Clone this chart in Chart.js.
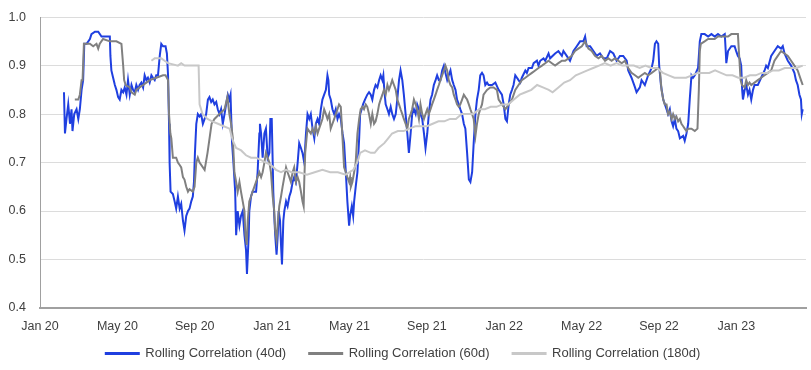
<!DOCTYPE html>
<html>
<head>
<meta charset="utf-8">
<script src="https://cdn.jsdelivr.net/npm/chart.js@4.4.1/dist/chart.umd.min.js"></script>
<style>
  html, body { margin: 0; padding: 0; background: #fff; }
  #wrap { width: 811px; height: 370px; }
</style>
</head>
<body>
<div id="wrap"><canvas id="chart"></canvas></div>
<script>
// x values are months since Jan 2020
const tickMonths = [0, 4, 8, 12, 16, 20, 24, 28, 32, 36];
const tickLabels = ["Jan 20", "May 20", "Sep 20", "Jan 21", "May 21", "Sep 21", "Jan 22", "May 22", "Sep 22", "Jan 23"];

const seriesNames = ["Rolling Correlation (40d)", "Rolling Correlation (60d)", "Rolling Correlation (180d)"];

const corr40d = [
  [1.24,0.845],[1.29,0.76],[1.37,0.79],[1.46,0.82],[1.55,0.78],[1.63,0.81],[1.68,0.765],[1.77,0.80],[1.89,0.81],[1.98,0.79],
  [2.06,0.81],[2.15,0.85],[2.23,0.87],[2.29,0.945],[2.41,0.945],[2.58,0.955],[2.66,0.965],[2.84,0.97],[3.01,0.97],[3.18,0.96],
  [3.35,0.96],[3.61,0.96],[3.64,0.92],[3.69,0.89],[3.78,0.875],[3.87,0.86],[3.95,0.85],[4.04,0.835],[4.12,0.83],[4.21,0.85],
  [4.30,0.845],[4.38,0.855],[4.47,0.84],[4.55,0.87],[4.64,0.84],[4.73,0.86],[4.81,0.85],[4.90,0.845],[4.98,0.86],[5.07,0.85],
  [5.15,0.86],[5.24,0.865],[5.33,0.855],[5.41,0.88],[5.50,0.87],[5.58,0.875],[5.67,0.865],[5.76,0.88],[5.84,0.875],[5.93,0.87],
  [6.01,0.88],[6.10,0.88],[6.19,0.92],[6.27,0.945],[6.36,0.94],[6.49,0.94],[6.56,0.925],[6.62,0.88],[6.67,0.78],[6.70,0.70],
  [6.75,0.64],[6.87,0.635],[6.96,0.62],[7.04,0.605],[7.13,0.63],[7.22,0.605],[7.30,0.615],[7.39,0.58],[7.47,0.56],[7.56,0.59],
  [7.65,0.60],[7.73,0.605],[7.82,0.62],[7.90,0.63],[7.96,0.66],[8.01,0.72],[8.08,0.78],[8.16,0.80],[8.25,0.795],[8.33,0.80],
  [8.42,0.78],[8.51,0.79],[8.59,0.80],[8.68,0.83],[8.76,0.835],[8.85,0.825],[8.93,0.83],[9.02,0.82],[9.11,0.825],[9.19,0.81],
  [9.28,0.80],[9.36,0.81],[9.45,0.78],[9.54,0.80],[9.62,0.82],[9.71,0.84],[9.79,0.83],[9.85,0.84],[9.88,0.80],[9.93,0.74],
  [10.00,0.70],[10.09,0.64],[10.14,0.55],[10.22,0.60],[10.31,0.57],[10.39,0.59],[10.48,0.60],[10.57,0.55],[10.65,0.52],[10.70,0.47],
  [10.79,0.55],[10.82,0.60],[10.91,0.63],[10.99,0.64],[11.08,0.64],[11.17,0.64],[11.25,0.68],[11.34,0.76],[11.37,0.78],[11.43,0.76],
  [11.51,0.71],[11.60,0.76],[11.68,0.77],[11.77,0.71],[11.86,0.72],[11.91,0.79],[11.98,0.79],[12.03,0.70],[12.06,0.64],[12.11,0.59],
  [12.16,0.55],[12.23,0.51],[12.29,0.55],[12.34,0.60],[12.41,0.58],[12.46,0.53],[12.51,0.49],[12.58,0.58],[12.63,0.60],[12.72,0.62],
  [12.80,0.61],[12.89,0.63],[12.97,0.64],[13.06,0.66],[13.14,0.67],[13.23,0.66],[13.32,0.70],[13.40,0.74],[13.49,0.73],[13.57,0.72],
  [13.66,0.70],[13.75,0.76],[13.83,0.80],[13.92,0.79],[14.00,0.80],[14.09,0.77],[14.18,0.75],[14.26,0.78],[14.35,0.79],[14.43,0.78],
  [14.52,0.81],[14.60,0.83],[14.69,0.84],[14.78,0.85],[14.86,0.88],[14.91,0.87],[14.95,0.84],[15.03,0.83],[15.12,0.81],[15.21,0.80],
  [15.29,0.81],[15.38,0.79],[15.46,0.80],[15.55,0.79],[15.64,0.76],[15.72,0.74],[15.81,0.68],[15.89,0.62],[15.98,0.57],[16.03,0.59],
  [16.12,0.61],[16.19,0.59],[16.24,0.62],[16.32,0.65],[16.41,0.68],[16.50,0.75],[16.55,0.80],[16.63,0.81],[16.70,0.82],[16.80,0.83],
  [16.92,0.84],[17.01,0.845],[17.10,0.84],[17.18,0.83],[17.27,0.85],[17.35,0.86],[17.44,0.855],[17.53,0.87],[17.61,0.88],[17.70,0.87],
  [17.75,0.88],[17.80,0.85],[17.87,0.82],[17.96,0.81],[18.04,0.80],[18.13,0.815],[18.21,0.80],[18.30,0.79],[18.39,0.80],[18.47,0.83],
  [18.56,0.87],[18.64,0.89],[18.73,0.87],[18.81,0.84],[18.90,0.80],[18.99,0.76],[19.07,0.72],[19.16,0.76],[19.24,0.80],[19.33,0.81],
  [19.42,0.80],[19.50,0.82],[19.59,0.81],[19.67,0.80],[19.76,0.79],[19.85,0.76],[19.93,0.73],[20.02,0.76],[20.10,0.80],[20.19,0.83],
  [20.27,0.84],[20.36,0.86],[20.45,0.87],[20.53,0.88],[20.62,0.87],[20.70,0.87],[20.79,0.89],[20.88,0.90],[20.96,0.885],[21.05,0.87],
  [21.13,0.88],[21.22,0.89],[21.31,0.87],[21.39,0.86],[21.48,0.85],[21.56,0.83],[21.65,0.82],[21.73,0.81],[21.82,0.80],[21.91,0.78],
  [21.99,0.77],[22.08,0.72],[22.17,0.665],[22.25,0.66],[22.34,0.68],[22.42,0.74],[22.51,0.80],[22.59,0.83],[22.68,0.85],[22.76,0.88],
  [22.85,0.885],[22.93,0.88],[23.02,0.86],[23.11,0.865],[23.19,0.86],[23.37,0.86],[23.54,0.865],[23.71,0.85],[23.88,0.84],[23.97,0.82],
  [24.06,0.79],[24.14,0.785],[24.23,0.82],[24.31,0.84],[24.40,0.85],[24.48,0.86],[24.57,0.88],[24.74,0.87],[24.83,0.865],[24.91,0.875],
  [25.09,0.89],[25.17,0.885],[25.26,0.895],[25.43,0.895],[25.52,0.905],[25.69,0.91],[25.77,0.90],[25.86,0.91],[26.03,0.915],[26.12,0.91],
  [26.29,0.925],[26.37,0.915],[26.63,0.925],[26.80,0.93],[26.98,0.92],[27.06,0.93],[27.23,0.92],[27.40,0.91],[27.58,0.93],[27.75,0.94],
  [27.92,0.95],[28.09,0.95],[28.18,0.96],[28.26,0.94],[28.44,0.94],[28.61,0.93],[28.78,0.92],[28.95,0.925],[29.12,0.915],[29.30,0.915],
  [29.47,0.93],[29.64,0.925],[29.81,0.91],[29.98,0.92],[30.15,0.92],[30.33,0.91],[30.41,0.89],[30.58,0.875],[30.76,0.855],[30.84,0.845],
  [31.01,0.855],[31.10,0.87],[31.27,0.86],[31.44,0.88],[31.62,0.895],[31.70,0.91],[31.79,0.945],[31.87,0.95],[31.96,0.945],[32.01,0.90],
  [32.10,0.86],[32.22,0.83],[32.39,0.81],[32.47,0.80],[32.56,0.81],[32.65,0.785],[32.73,0.775],[32.82,0.79],[32.90,0.77],[32.99,0.765],
  [33.08,0.75],[33.25,0.755],[33.33,0.745],[33.42,0.76],[33.51,0.78],[33.59,0.83],[33.68,0.88],[33.76,0.875],[33.85,0.88],[34.02,0.895],
  [34.11,0.95],[34.19,0.965],[34.36,0.965],[34.54,0.96],[34.71,0.965],[34.88,0.96],[35.05,0.965],[35.22,0.96],[35.40,0.965],[35.45,0.93],
  [35.48,0.905],[35.57,0.93],[35.74,0.94],[35.91,0.94],[35.99,0.93],[36.08,0.92],[36.17,0.915],[36.25,0.90],[36.30,0.85],[36.34,0.83],
  [36.43,0.85],[36.51,0.86],[36.60,0.84],[36.68,0.85],[36.77,0.83],[36.86,0.85],[36.94,0.86],[37.11,0.86],[37.28,0.875],[37.46,0.89],
  [37.54,0.90],[37.63,0.895],[37.80,0.92],[37.97,0.93],[38.14,0.94],[38.31,0.935],[38.40,0.94],[38.49,0.925],[38.66,0.91],[38.83,0.90],
  [39.00,0.885],[39.08,0.87],[39.17,0.86],[39.26,0.84],[39.34,0.83],[39.38,0.80],[39.43,0.81]
];

const corr60d = [
  [1.80,0.83],[1.98,0.83],[2.06,0.84],[2.15,0.87],[2.20,0.87],[2.27,0.945],[2.58,0.945],[2.75,0.94],[2.92,0.945],[3.01,0.935],
  [3.09,0.945],[3.26,0.955],[3.61,0.95],[3.95,0.95],[4.21,0.945],[4.30,0.90],[4.35,0.87],[4.43,0.86],[4.64,0.855],[4.73,0.845],
  [4.90,0.84],[4.98,0.85],[5.15,0.855],[5.33,0.86],[5.50,0.865],[5.67,0.87],[6.01,0.875],[6.36,0.88],[6.49,0.88],[6.62,0.87],
  [6.67,0.80],[6.74,0.76],[6.79,0.75],[6.87,0.71],[7.04,0.71],[7.13,0.70],[7.22,0.695],[7.30,0.69],[7.39,0.67],[7.47,0.665],
  [7.56,0.65],[7.65,0.64],[7.73,0.645],[7.90,0.64],[7.99,0.65],[8.08,0.70],[8.16,0.71],[8.25,0.70],[8.51,0.685],[8.66,0.72],
  [8.87,0.78],[9.02,0.79],[9.28,0.80],[9.54,0.81],[9.69,0.835],[9.79,0.80],[9.88,0.78],[9.97,0.75],[10.05,0.68],[10.14,0.66],
  [10.22,0.64],[10.31,0.66],[10.39,0.64],[10.48,0.62],[10.57,0.60],[10.62,0.55],[10.69,0.53],[10.74,0.58],[10.82,0.62],[10.91,0.63],
  [10.99,0.64],[11.08,0.65],[11.17,0.66],[11.25,0.67],[11.34,0.68],[11.43,0.67],[11.51,0.68],[11.60,0.70],[11.68,0.72],[11.77,0.71],
  [11.86,0.70],[11.94,0.68],[12.03,0.63],[12.11,0.60],[12.16,0.56],[12.23,0.54],[12.30,0.58],[12.37,0.61],[12.46,0.63],[12.54,0.65],
  [12.63,0.67],[12.72,0.69],[12.80,0.68],[12.89,0.67],[12.97,0.66],[13.06,0.68],[13.14,0.69],[13.23,0.66],[13.32,0.67],[13.40,0.66],
  [13.49,0.64],[13.57,0.62],[13.63,0.61],[13.66,0.66],[13.71,0.72],[13.78,0.75],[13.83,0.77],[14.00,0.76],[14.09,0.77],[14.18,0.76],
  [14.26,0.775],[14.35,0.76],[14.43,0.77],[14.52,0.78],[14.60,0.79],[14.69,0.81],[14.78,0.80],[14.86,0.79],[14.95,0.80],[15.03,0.77],
  [15.12,0.78],[15.21,0.79],[15.29,0.80],[15.38,0.81],[15.46,0.82],[15.55,0.815],[15.64,0.75],[15.72,0.69],[15.81,0.68],[15.89,0.67],
  [15.98,0.66],[16.03,0.67],[16.07,0.65],[16.15,0.66],[16.24,0.68],[16.32,0.70],[16.41,0.76],[16.50,0.79],[16.58,0.81],[16.67,0.815],
  [16.75,0.81],[16.84,0.82],[16.92,0.815],[17.01,0.80],[17.10,0.78],[17.18,0.80],[17.27,0.78],[17.35,0.785],[17.44,0.80],[17.53,0.82],
  [17.61,0.83],[17.70,0.84],[17.78,0.85],[17.87,0.84],[17.96,0.86],[18.04,0.85],[18.13,0.86],[18.21,0.87],[18.30,0.86],[18.39,0.85],
  [18.47,0.83],[18.56,0.82],[18.64,0.81],[18.73,0.80],[18.81,0.79],[18.90,0.78],[18.99,0.77],[19.07,0.79],[19.16,0.80],[19.24,0.81],
  [19.33,0.83],[19.42,0.82],[19.50,0.81],[19.59,0.79],[19.67,0.82],[19.76,0.80],[19.85,0.79],[19.93,0.80],[20.02,0.81],[20.10,0.80],
  [20.19,0.81],[20.27,0.82],[20.36,0.83],[20.45,0.84],[20.53,0.85],[20.62,0.86],[20.70,0.87],[20.79,0.88],[20.88,0.89],[20.96,0.90],
  [21.05,0.89],[21.13,0.87],[21.22,0.86],[21.31,0.855],[21.39,0.84],[21.48,0.83],[21.56,0.82],[21.65,0.815],[21.73,0.82],[21.82,0.83],
  [21.91,0.84],[21.99,0.835],[22.08,0.83],[22.17,0.82],[22.25,0.81],[22.34,0.80],[22.42,0.79],[22.51,0.755],[22.59,0.78],[22.68,0.80],
  [22.76,0.81],[22.85,0.82],[22.93,0.84],[23.02,0.845],[23.11,0.85],[23.28,0.855],[23.45,0.855],[23.62,0.85],[23.71,0.83],[23.88,0.82],
  [24.06,0.81],[24.23,0.82],[24.40,0.83],[24.57,0.85],[24.74,0.86],[24.91,0.87],[25.09,0.875],[25.26,0.88],[25.43,0.885],[25.60,0.89],
  [25.77,0.895],[25.95,0.90],[26.12,0.905],[26.29,0.91],[26.46,0.905],[26.63,0.90],[26.80,0.905],[26.98,0.91],[27.15,0.91],[27.32,0.915],
  [27.49,0.92],[27.66,0.93],[27.83,0.935],[28.01,0.94],[28.18,0.95],[28.35,0.935],[28.52,0.93],[28.69,0.92],[28.87,0.915],[29.04,0.92],
  [29.21,0.91],[29.38,0.915],[29.55,0.91],[29.72,0.915],[29.90,0.91],[30.07,0.905],[30.24,0.91],[30.41,0.895],[30.58,0.885],[30.76,0.88],
  [30.93,0.875],[31.10,0.88],[31.27,0.885],[31.44,0.88],[31.62,0.885],[31.79,0.89],[31.96,0.895],[32.05,0.89],[32.13,0.85],[32.22,0.83],
  [32.30,0.82],[32.39,0.82],[32.47,0.80],[32.56,0.805],[32.65,0.79],[32.73,0.80],[32.82,0.79],[32.90,0.795],[32.99,0.785],[33.08,0.79],
  [33.16,0.78],[33.25,0.775],[33.33,0.77],[33.42,0.765],[33.51,0.77],[33.68,0.77],[33.85,0.765],[33.99,0.77],[34.06,0.85],[34.11,0.93],
  [34.16,0.945],[34.36,0.95],[34.54,0.955],[34.88,0.955],[35.05,0.96],[35.40,0.96],[35.57,0.96],[35.74,0.965],[36.08,0.965],[36.13,0.93],
  [36.22,0.87],[36.29,0.86],[36.43,0.855],[36.51,0.87],[36.60,0.86],[36.68,0.865],[36.77,0.86],[36.94,0.865],[37.11,0.87],[37.28,0.875],
  [37.46,0.88],[37.63,0.885],[37.80,0.89],[37.97,0.91],[38.14,0.92],[38.31,0.93],[38.49,0.925],[38.66,0.92],[38.83,0.91],[39.00,0.90],
  [39.17,0.89],[39.34,0.87],[39.43,0.86]
];

const corr180d = [
  [5.76,0.91],[5.93,0.915],[6.27,0.915],[6.44,0.91],[6.62,0.905],[7.13,0.90],[7.30,0.905],[7.47,0.90],[7.99,0.90],[8.20,0.90],
  [8.25,0.82],[8.40,0.80],[8.66,0.79],[8.90,0.785],[9.20,0.78],[9.50,0.775],[9.80,0.77],[9.97,0.745],[10.14,0.73],[10.40,0.725],
  [10.65,0.715],[10.91,0.71],[11.17,0.71],[11.43,0.705],[11.68,0.70],[11.94,0.695],[12.20,0.685],[12.46,0.68],[12.72,0.685],[13.00,0.68],
  [13.40,0.68],[13.80,0.675],[14.20,0.68],[14.60,0.685],[15.00,0.68],[15.40,0.68],[15.80,0.675],[16.20,0.685],[16.40,0.70],[16.55,0.72],
  [16.80,0.725],[17.10,0.72],[17.30,0.72],[17.50,0.73],[17.80,0.74],[18.00,0.75],[18.20,0.76],[18.50,0.765],[18.80,0.765],[19.10,0.77],
  [19.40,0.775],[19.70,0.775],[20.00,0.775],[20.30,0.78],[20.60,0.785],[20.90,0.785],[21.20,0.79],[21.50,0.79],[21.80,0.80],[22.10,0.80],
  [22.40,0.80],[22.70,0.81],[23.00,0.81],[23.30,0.815],[23.60,0.815],[23.90,0.82],[24.20,0.82],[24.50,0.83],[24.80,0.84],[25.10,0.845],
  [25.40,0.85],[25.70,0.86],[26.00,0.855],[26.30,0.85],[26.50,0.845],[26.80,0.855],[27.10,0.865],[27.40,0.87],[27.70,0.88],[28.00,0.885],
  [28.30,0.89],[28.60,0.895],[28.90,0.90],[29.20,0.905],[29.50,0.90],[29.80,0.905],[30.10,0.90],[30.40,0.90],[30.70,0.90],[31.00,0.895],
  [31.30,0.90],[31.60,0.895],[31.90,0.895],[32.20,0.885],[32.50,0.88],[32.80,0.875],[33.10,0.875],[33.40,0.875],[33.70,0.88],[34.00,0.885],
  [34.30,0.885],[34.60,0.885],[34.90,0.89],[35.20,0.885],[35.50,0.88],[35.80,0.88],[36.10,0.875],[36.40,0.875],[36.70,0.88],[37.00,0.88],
  [37.30,0.885],[37.60,0.885],[37.90,0.89],[38.20,0.89],[38.50,0.895],[38.80,0.895],[39.10,0.895],[39.43,0.90]
];

const toPoints = arr => arr.map(p => ({ x: p[0], y: p[1] }));
const fontFamily = "'Liberation Sans', Arial, sans-serif";
const textColor = "#404040";

const makeSet = (label, data, color, order) => ({
  label: label,
  data: toPoints(data),
  borderColor: color,
  backgroundColor: color,
  borderWidth: 2,
  pointRadius: 0,
  tension: 0,
  order: order
});

// wider gap between legend entries without extra vertical padding
const legendLabels = chart =>
  Chart.defaults.plugins.legend.labels.generateLabels(chart)
    .sort((a, b) => a.datasetIndex - b.datasetIndex)
    .map((item, i, all) => ({ ...item, text: i < all.length - 1 ? item.text + "\u2003" : item.text }));

const chart = new Chart(document.getElementById("chart"), {
  type: "line",
  data: {
    datasets: [
      makeSet(seriesNames[0], corr40d, "#1f3fe0", 3),
      makeSet(seriesNames[1], corr60d, "#808080", 2),
      makeSet(seriesNames[2], corr180d, "#c8c8c8", 1)
    ]
  },
  options: {
    responsive: true,
    maintainAspectRatio: false,
    animation: false,
    layout: { padding: { top: 10, right: 5, left: 0, bottom: 0 } },
    plugins: {
      tooltip: { enabled: false },
      legend: {
        position: "bottom",
        labels: {
          boxWidth: 33,
          boxHeight: 1,
          padding: 10,
          color: textColor,
          font: { family: fontFamily, size: 13 },
          generateLabels: legendLabels
        }
      }
    },
    scales: {
      x: {
        type: "linear",
        min: 0,
        max: 39.6,
        afterBuildTicks: s => { s.ticks = tickMonths.map(v => ({ value: v })); },
        afterFit: s => { s.height = 29; },
        ticks: {
          autoSkip: false,
          maxRotation: 0,
          padding: 11,
          color: textColor,
          font: { family: fontFamily, size: 12.5 },
          callback: v => tickLabels[tickMonths.indexOf(v)]
        },
        grid: { display: false, drawTicks: false },
        border: { display: true, color: "#a0a0a0", width: 2 }
      },
      y: {
        min: 0.4,
        max: 1.0,
        afterFit: s => { s.width = 40; },
        ticks: {
          stepSize: 0.1,
          padding: 14,
          color: textColor,
          font: { family: fontFamily, size: 12.5, lineHeight: 0.5 },
          callback: v => v.toFixed(1)
        },
        grid: { color: "#dcdcdc", drawTicks: false },
        border: { display: true, color: "#a0a0a0", width: 1 }
      }
    }
  }
});
</script>
</body>
</html>
